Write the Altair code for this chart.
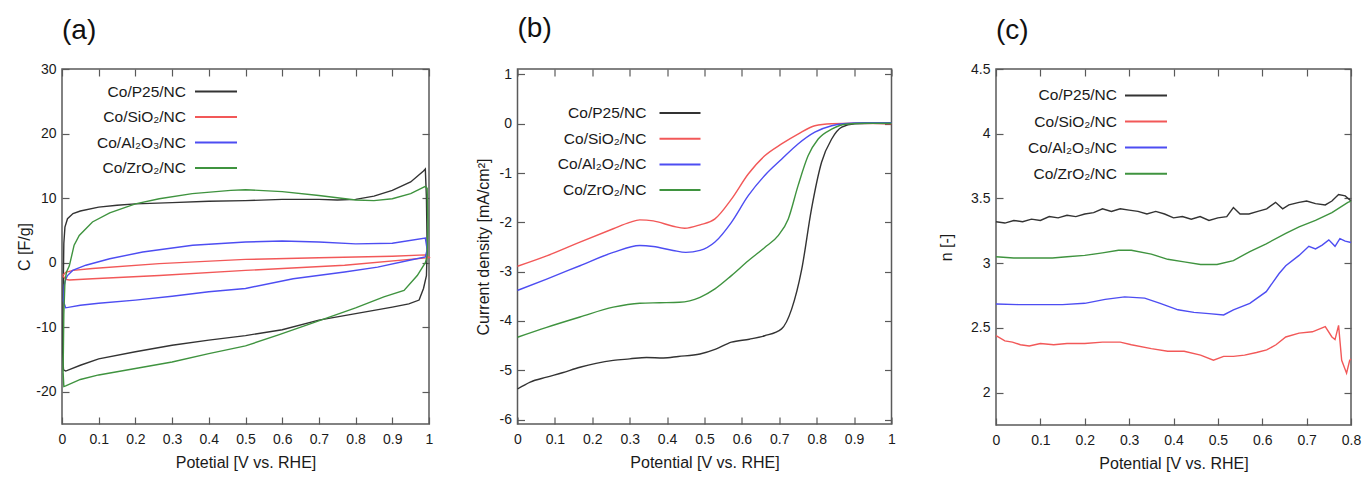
import altair as alt
import pandas as pd

SERIES = ["P25", "SiO2", "Al2O3", "ZrO2"]
COLORS = ["#333333", "#f25858", "#4d4df2", "#3f933f"]
LABELS_A = ["Co/P25/NC", "Co/SiO₂/NC", "Co/Al₂O₃/NC", "Co/ZrO₂/NC"]
LABELS_B = ["Co/P25/NC", "Co/SiO₂/NC", "Co/Al₂O₂/NC", "Co/ZrO₂/NC"]
LABELS_C = ["Co/P25/NC", "Co/SiO₂/NC", "Co/Al₂O₃/NC", "Co/ZrO₂/NC"]

# ---------- panel (a): cyclic voltammetry loops (C [F/g]) ----------
a_p25_x = [0.002, 0.003, 0.005, 0.008, 0.015, 0.03, 0.05, 0.1, 0.15, 0.2, 0.3, 0.4, 0.5, 0.6, 0.7, 0.75, 0.8,
           0.85, 0.9, 0.95, 0.985, 0.99, 0.993, 0.995, 0.993, 0.985, 0.973, 0.945, 0.9, 0.85, 0.8, 0.7, 0.6,
           0.5, 0.4, 0.3, 0.2, 0.1, 0.05, 0.01, 0.004, 0.002]
a_p25_y = [-14, -5, 3, 5.5, 6.8, 7.6, 8.0, 8.6, 8.9, 9.1, 9.3, 9.5, 9.6, 9.8, 9.8, 9.7, 9.8,
           10.3, 11.2, 12.5, 14.2, 14.5, 10, 2, -2, -4, -5.8, -6.4, -6.9, -7.4, -7.9, -8.9, -10.4,
           -11.3, -12.0, -12.8, -13.8, -14.9, -15.9, -16.8, -16.6, -14]
a_sio2_x = [0.002, 0.01, 0.03, 0.083, 0.265, 0.5, 0.7, 0.9, 0.99, 1.0, 0.986, 0.77, 0.5, 0.265, 0.083,
            0.02, 0.01, 0.002]
a_sio2_y = [-2.0, -1.5, -1.2, -0.9, -0.15, 0.5, 0.75, 1.0, 1.2, 0.8, 0.7, -0.4, -1.2, -2.0, -2.5,
            -2.7, -2.6, -2.0]
a_al_x = [0.004, 0.006, 0.01, 0.015, 0.029, 0.065, 0.13, 0.22, 0.356, 0.5, 0.6, 0.7, 0.8, 0.9, 0.99,
          0.995, 0.99, 0.95, 0.86, 0.77, 0.63, 0.5, 0.4, 0.3, 0.2, 0.1, 0.05, 0.01, 0.004]
a_al_y = [-6, -3.5, -2.6, -2.0, -1.2, -0.4, 0.6, 1.65, 2.7, 3.2, 3.35, 3.2, 2.9, 3.0, 3.8,
          2, 0.9, 0.4, -0.7, -1.45, -2.5, -4.0, -4.5, -5.2, -5.8, -6.3, -6.6, -7.0, -6]
a_zr_x = [0.003, 0.005, 0.008, 0.012, 0.02, 0.033, 0.047, 0.083, 0.13, 0.2, 0.265, 0.355, 0.46, 0.5,
          0.6, 0.7, 0.8, 0.85, 0.9, 0.95, 0.99, 0.995, 0.997, 0.995, 0.99, 0.968, 0.932, 0.877, 0.8,
          0.68, 0.59, 0.5, 0.4, 0.3, 0.2, 0.1, 0.05, 0.01, 0.005, 0.003]
a_zr_y = [-17, -8, -3, -1.5, -0.5, 2.7, 4.2, 6.3, 7.7, 9.1, 9.9, 10.7, 11.2, 11.3,
          11.0, 10.4, 9.7, 9.6, 9.9, 10.7, 11.8, 11.5, 6, 1, 0, -2.0, -4.3, -5.3, -7.0,
          -9.4, -11.2, -12.9, -14.1, -15.4, -16.4, -17.4, -18.1, -19.1, -19.2, -17]

# ---------- panel (b): LSV current density ----------
b_p25_x = [0.0, 0.034, 0.078, 0.12, 0.167, 0.21, 0.256, 0.3, 0.345, 0.39, 0.43, 0.488, 0.53, 0.572,
           0.62, 0.661, 0.706, 0.733, 0.76, 0.786, 0.813, 0.84, 0.867, 0.902, 0.95, 1.0]
b_p25_y = [-5.38, -5.24, -5.14, -5.05, -4.94, -4.86, -4.80, -4.77, -4.74, -4.75, -4.72, -4.67, -4.57, -4.43,
           -4.37, -4.30, -4.16, -3.76, -2.95, -1.73, -0.78, -0.31, -0.07, 0.0, 0.01, 0.0]
b_sio2_x = [0.0, 0.078, 0.167, 0.256, 0.3, 0.327, 0.363, 0.416, 0.447, 0.488, 0.528, 0.572, 0.617,
            0.661, 0.706, 0.75, 0.795, 0.84, 0.9, 1.0]
b_sio2_y = [-2.89, -2.68, -2.40, -2.13, -2.0, -1.95, -1.97, -2.08, -2.12, -2.05, -1.93, -1.53, -1.02,
            -0.65, -0.41, -0.21, -0.04, 0.0, 0.01, 0.0]
b_al_x = [0.0, 0.078, 0.167, 0.256, 0.327, 0.363, 0.416, 0.45, 0.488, 0.528, 0.572, 0.617, 0.661,
          0.706, 0.75, 0.795, 0.84, 0.87, 0.93, 1.0]
b_al_y = [-3.38, -3.15, -2.88, -2.61, -2.47, -2.49, -2.57, -2.61, -2.57, -2.40, -2.0, -1.46, -1.05,
          -0.72, -0.41, -0.17, -0.04, 0.0, 0.02, 0.02]
b_zr_x = [0.0, 0.078, 0.167, 0.256, 0.327, 0.38, 0.433, 0.488, 0.528, 0.572, 0.617, 0.661, 0.697,
          0.724, 0.75, 0.777, 0.804, 0.84, 0.876, 0.93, 1.0]
b_zr_y = [-4.33, -4.13, -3.92, -3.72, -3.64, -3.63, -3.62, -3.52, -3.35, -3.08, -2.78, -2.51, -2.27,
          -1.93, -1.26, -0.65, -0.31, -0.11, -0.01, 0.01, 0.01]

# ---------- panel (c): electron transfer number ----------
c_p25_x = [0.0, 0.02, 0.04, 0.06, 0.08, 0.10, 0.12, 0.14, 0.16, 0.18, 0.20, 0.22, 0.24, 0.26, 0.28,
           0.30, 0.32, 0.34, 0.36, 0.38, 0.40, 0.42, 0.44, 0.46, 0.48, 0.50, 0.52, 0.535, 0.55, 0.57,
           0.59, 0.61, 0.63, 0.646, 0.66, 0.683, 0.70, 0.72, 0.742, 0.757, 0.772, 0.787, 0.80]
c_p25_y = [3.32, 3.31, 3.33, 3.32, 3.34, 3.33, 3.36, 3.35, 3.37, 3.36, 3.38, 3.39, 3.42, 3.40, 3.42,
           3.41, 3.40, 3.38, 3.40, 3.38, 3.35, 3.36, 3.34, 3.36, 3.33, 3.35, 3.36, 3.43, 3.38, 3.38,
           3.40, 3.42, 3.47, 3.42, 3.45, 3.47, 3.48, 3.46, 3.45, 3.48, 3.53, 3.52, 3.48]
c_sio2_x = [0.0, 0.02, 0.037, 0.055, 0.075, 0.1, 0.13, 0.16, 0.2, 0.24, 0.28, 0.305, 0.35, 0.387,
            0.424, 0.461, 0.49, 0.513, 0.535, 0.56, 0.587, 0.61, 0.631, 0.653, 0.683, 0.713, 0.742,
            0.757, 0.764, 0.772, 0.779, 0.79, 0.797, 0.80]
c_sio2_y = [2.44, 2.40, 2.39, 2.37, 2.36, 2.38, 2.37, 2.38, 2.38, 2.39, 2.39, 2.37, 2.34, 2.32,
            2.32, 2.29, 2.25, 2.28, 2.28, 2.29, 2.31, 2.33, 2.37, 2.43, 2.46, 2.47, 2.51,
            2.43, 2.41, 2.52, 2.25, 2.15, 2.25, 2.26]
c_al_x = [0.0, 0.05, 0.1, 0.15, 0.2, 0.246, 0.29, 0.335, 0.37, 0.41, 0.446, 0.48, 0.513, 0.535, 0.572,
          0.609, 0.638, 0.653, 0.683, 0.705, 0.72, 0.735, 0.75, 0.764, 0.775, 0.787, 0.8]
c_al_y = [2.685, 2.68, 2.68, 2.68, 2.69, 2.72, 2.74, 2.73, 2.69, 2.64, 2.62, 2.61, 2.60, 2.64, 2.69,
          2.78, 2.92, 2.98, 3.06, 3.13, 3.11, 3.14, 3.18, 3.13, 3.19, 3.17, 3.16]
c_zr_x = [0.0, 0.04, 0.08, 0.127, 0.16, 0.2, 0.24, 0.276, 0.305, 0.35, 0.387, 0.424, 0.461, 0.498,
          0.535, 0.572, 0.609, 0.653, 0.683, 0.72, 0.757, 0.793, 0.8]
c_zr_y = [3.05, 3.04, 3.04, 3.04, 3.05, 3.06, 3.08, 3.10, 3.10, 3.07, 3.03, 3.01, 2.99, 2.99,
          3.02, 3.09, 3.15, 3.23, 3.28, 3.33, 3.39, 3.47, 3.48]

X_TICKS_AB = [0, 0.1, 0.2, 0.3, 0.4, 0.5, 0.6, 0.7, 0.8, 0.9, 1]
X_TICKS_C = [0, 0.1, 0.2, 0.3, 0.4, 0.5, 0.6, 0.7, 0.8]
Y_TICKS_A = [-20, -10, 0, 10, 20, 30]
Y_TICKS_B = [-6, -5, -4, -3, -2, -1, 0, 1]
Y_TICKS_C = [2, 2.5, 3, 3.5, 4, 4.5]

FONT = "Liberation Sans"
LBL = "datum.value < 0 ? '-' + format(-datum.value, '~g') : format(datum.value, '~g')"
TICK = 7


def frame_df(pairs):
    rows = []
    for s, (xs, ys) in zip(SERIES, pairs):
        for i, (xv, yv) in enumerate(zip(xs, ys)):
            rows.append({"series": s, "x": xv, "y": yv, "i": i})
    return pd.DataFrame(rows)


color = alt.Color("series:N", scale=alt.Scale(domain=SERIES, range=COLORS), legend=None)


def panel(df, xdom, ydom, xticks, yticks, xtitle, ytitle, ttl, toff, labels, lg, ytp, w, h=355, smooth=False):
    xs = alt.Scale(domain=xdom, nice=False, zero=False)
    ys = alt.Scale(domain=ydom, nice=False, zero=False)
    if smooth:
        base = alt.Chart(df).mark_line(strokeWidth=1.4, interpolate="monotone")
    else:
        base = alt.Chart(df).mark_line(strokeWidth=1.4)
    lines = base.encode(
        x=alt.X("x:Q", scale=xs, axis=alt.Axis(orient="bottom", values=xticks, offset=-TICK, tickSize=TICK,
                                              labelPadding=8, domain=False, grid=False, title=xtitle,
                                              titlePadding=8, labelExpr=LBL, labelFlush=False)),
        y=alt.Y("y:Q", scale=ys, axis=alt.Axis(orient="left", values=yticks, offset=-TICK, tickSize=TICK,
                                              labelPadding=6, domain=False, grid=False, title=ytitle,
                                              titlePadding=ytp, labelExpr=LBL, minExtent=32, maxExtent=32)),
        color=color,
        order="i:Q",
    )
    mirror = alt.Chart(df).mark_line(strokeOpacity=0).encode(
        x=alt.X("x:Q", scale=xs, axis=alt.Axis(orient="top", values=xticks, offset=-TICK, tickSize=TICK,
                                              labels=False, domain=False, grid=False, title=None)),
        y=alt.Y("y:Q", scale=ys, axis=alt.Axis(orient="right", values=yticks, offset=-TICK, tickSize=TICK,
                                              labels=False, domain=False, grid=False, title=None)),
        detail="series:N",
        order="i:Q",
    )
    lx, x1, x2, y0, dy = lg
    ldf = pd.DataFrame({"series": SERIES, "label": labels, "ly": [y0 + k * dy for k in range(4)]})
    ltext = alt.Chart(ldf).mark_text(align="right", baseline="middle", font=FONT, fontSize=15.5,
                                     color="#1a1a1a").encode(
        x=alt.value(lx), y=alt.Y("ly:Q", scale=None, axis=None), text="label:N")
    lrule = alt.Chart(ldf).mark_rule(strokeWidth=2).encode(
        x=alt.value(x1), x2=alt.value(x2), y=alt.Y("ly:Q", scale=None, axis=None), color=color)
    return alt.layer(lines, mirror, lrule, ltext).resolve_axis(x="independent", y="independent").properties(
        width=w, height=h,
        title=alt.TitleParams(ttl, anchor="start", frame="group", fontSize=28, fontWeight="normal",
                              font=FONT, color="#111", offset=toff))


dfa = frame_df([(a_p25_x, a_p25_y), (a_sio2_x, a_sio2_y), (a_al_x, a_al_y), (a_zr_x, a_zr_y)])
dfb = frame_df([(b_p25_x, b_p25_y), (b_sio2_x, b_sio2_y), (b_al_x, b_al_y), (b_zr_x, b_zr_y)])
dfc = frame_df([(c_p25_x, c_p25_y), (c_sio2_x, c_sio2_y), (c_al_x, c_al_y), (c_zr_x, c_zr_y)])

pa = panel(dfa, [0, 1], [-25, 30], X_TICKS_AB, Y_TICKS_A, "Potetial [V vs. RHE]", "C [F/g]", "(a)", 17.5,
           LABELS_A, (124, 133, 175, 22.5, 25.5), 5, 367)
pb = panel(dfb, [0, 1], [-6.09, 1.11], X_TICKS_AB, Y_TICKS_B, "Potential [V vs. RHE]",
           "Current density [mA/cm²]", "(b)", 24.5, LABELS_B, (129, 142, 183, 44, 25.7), 1, 374, smooth=True)
pc = panel(dfc, [0, 0.8], [1.75, 4.5], X_TICKS_C, Y_TICKS_C, "Potential [V vs. RHE]", "n [-]", "(c)", 17,
           LABELS_C, (121, 129, 171, 26.4, 26.1), 17, 355, 356)

chart = alt.hconcat(pa, pb, pc, spacing=40.5).properties(
    padding={"left": 7, "top": 6, "right": 0, "bottom": 0}
).configure_view(stroke="#5a5a5a", strokeWidth=1.5).configure_axis(
    tickColor="#5a5a5a", tickWidth=1.2, labelFont=FONT, labelFontSize=14, labelColor="#1a1a1a",
    titleFont=FONT, titleFontSize=16, titleFontWeight="normal", titleColor="#1a1a1a")

chart.save("out.html", embed_options={"renderer": "svg", "actions": False})
